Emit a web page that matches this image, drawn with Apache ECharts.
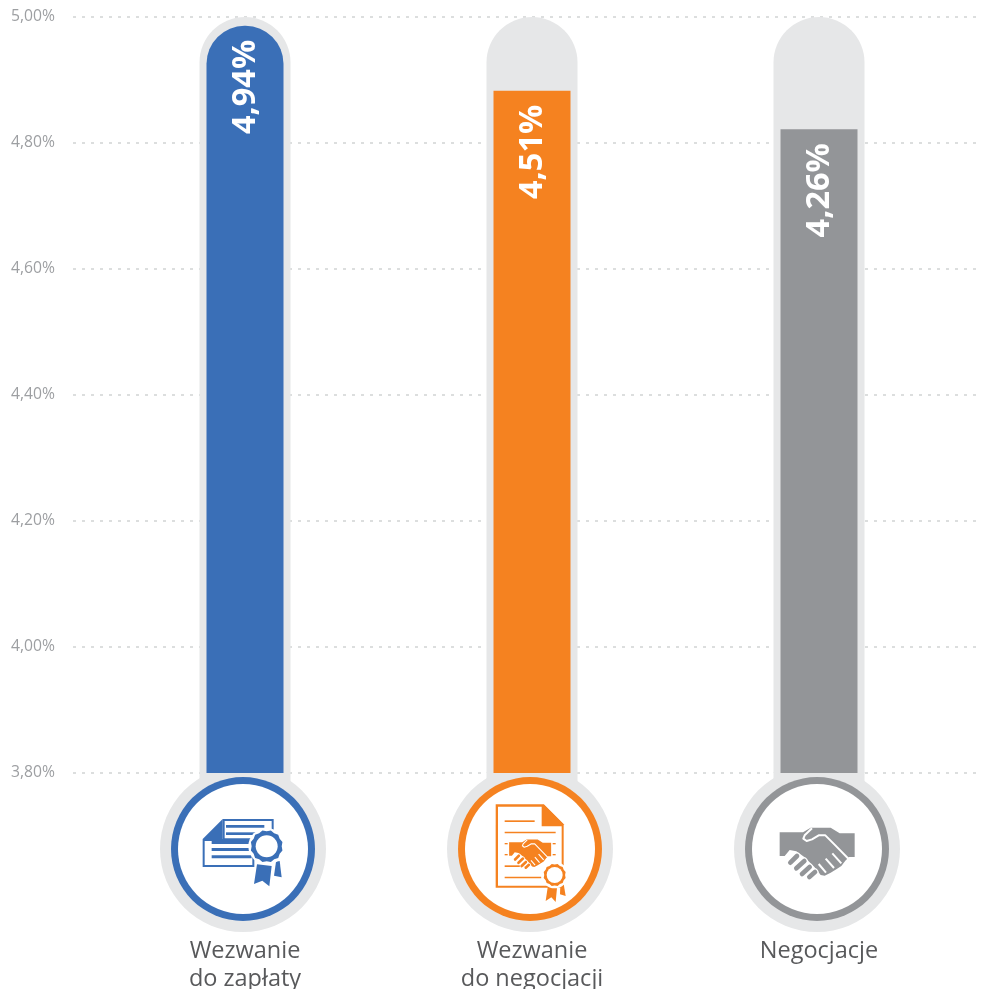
<!DOCTYPE html>
<html>
<head>
<meta charset="utf-8">
<title>Wezwania</title>
<script src="https://cdn.jsdelivr.net/npm/echarts@6/dist/echarts.min.js"></script>
<style>
  html, body { margin: 0; padding: 0; background: #fff; }
  #chart { width: 982px; height: 989px; }
</style>
</head>
<body>
<div id="chart"></div>
<script>
// bar heights as read against the axis; the printed labels differ from the axis in the original
const categories = ['Wezwanie\ndo zapłaty', 'Wezwanie\ndo negocjacji', 'Negocjacje'];
const barValues = [4.986, 4.883, 4.822];
const barLabels = ['4,94%', '4,51%', '4,26%'];
const trackValues = [5, 5, 5];
const colors = ['#3a6fb7', '#f58220', '#939598'];
const axisMin = 3.8;
const axisMax = 5;
const axisStep = 0.2;

const FONT = '"Open Sans", "Noto Sans", sans-serif';
const TRACK = '#e6e7e8';

function line(x1, y1, x2, y2, w, color, cap) {
  return {
    type: 'line',
    shape: { x1: x1, y1: y1, x2: x2, y2: y2 },
    style: { stroke: color, lineWidth: w, lineCap: cap || 'butt', fill: null }
  };
}
function poly(points, color) {
  return { type: 'polygon', shape: { points: points }, style: { fill: color } };
}
function circle(cx, cy, r, color) {
  return { type: 'circle', shape: { cx: cx, cy: cy, r: r }, style: { fill: color } };
}
function rect(x, y, w, h, color) {
  return { type: 'rect', shape: { x: x, y: y, width: w, height: h }, style: { fill: color } };
}
function rosette(cx, cy, r, inner, color) {
  const pts = [];
  const n = 24;
  for (let i = 0; i < n; i++) {
    const a = i / n * Math.PI * 2;
    const rr = i % 2 ? r : r * 0.92;
    pts.push([cx + Math.cos(a) * rr, cy + Math.sin(a) * rr]);
  }
  return [
    circle(cx, cy, r + 6, '#fff'),
    poly(pts, color),
    circle(cx, cy, inner, '#fff')
  ];
}
function knuckle(x1, y1, x2, y2, color) {
  return [
    line(x1, y1, x2, y2, 21, '#fff', 'round'),
    line(x1, y1, x2, y2, 14, color, 'round')
  ];
}

// icon shapes are in a 3x drawing space, handshake spans about 165..390 / 203..355
function handshake(color) {
  return [
    poly([[165, 217], [235, 217], [258, 203], [318, 203], [345, 220], [390, 220], [390, 291], [373, 291],
      [362, 302], [350, 318], [335, 328], [318, 338], [300, 347], [288, 345], [270, 322], [240, 292],
      [215, 274], [195, 270], [180, 288], [165, 288]], color),
    // thumb edge
    { type: 'polyline', shape: { points: [[262, 205], [240, 226], [236, 236], [246, 243], [262, 238], [282, 226], [302, 226], [332, 256], [372, 297]] },
      style: { stroke: '#fff', lineWidth: 6, fill: null, lineJoin: 'round' } },
    line(282, 312, 304, 338, 6, '#fff'),
    line(303, 296, 328, 324, 6, '#fff'),
    line(323, 280, 350, 310, 6, '#fff')
  ].concat(
    knuckle(197, 308, 217, 288, color),
    knuckle(215, 325, 239, 303, color),
    knuckle(232, 342, 255, 321, color),
    knuckle(254, 351, 271, 336, color)
  );
}

function iconCertificate(c) {
  return [
    poly([[218, 177], [371, 177], [371, 240], [218, 240]], c),
    rect(224, 183, 141, 52, '#fff'),
    rect(228, 195, 115, 8, c),
    rect(228, 217, 90, 8, c),
    poly([[158, 237], [218, 177], [218, 237]], c),
    rect(158, 237, 155, 84, c),
    rect(164, 243, 143, 72, '#fff'),
    rect(185, 243, 115, 9, c),
    rect(185, 264, 115, 9, c),
    rect(185, 286, 120, 9, c),
    poly([[378, 305], [389, 303], [395, 352], [372, 347]], c),
    poly([[321, 313], [365, 318], [358, 379], [337, 362], [312, 372]], c)
  ].concat(rosette(350, 259, 49, 33, c));
}

function iconContract(c) {
  const shake = { type: 'group', x: 116, y: 123, scaleX: 0.56, scaleY: 0.57, children: handshake(c) };
  return [
    poly([[168, 133], [312, 133], [372, 193], [372, 383], [168, 383]], c),
    poly([[175, 140], [306, 140], [306, 199], [366, 199], [366, 377], [175, 377]], '#fff'),
    poly([[312, 133], [372, 193], [312, 193]], c),
    rect(195, 181, 90, 5, c),
    rect(195, 215, 153, 5, c),
    rect(195, 316, 60, 5, c),
    rect(195, 350, 110, 5, c),
    rect(195, 249, 9, 4, c),
    rect(195, 282, 9, 4, c),
    rect(339, 249, 9, 4, c),
    rect(339, 282, 9, 4, c),
    shake,
    poly([[362, 375], [372, 372], [378, 408], [361, 403]], c),
    poly([[325, 376], [352, 384], [348, 426], [335, 412], [318, 423]], c)
  ].concat(rosette(345, 345, 34, 24, c));
}

const icons = [
  { draw: iconCertificate, ox: 279, oy: 267 },
  { draw: iconContract, ox: 271, oy: 267 },
  { draw: handshake, ox: 277, oy: 267 }
];

// grey disc and neck go under the bars, the ring and icon over them
function renderDisc(params, api) {
  const p = api.coord([api.value(0), axisMin]);
  return {
    type: 'group',
    children: [
      { type: 'rect', shape: { x: p[0] - 45.5, y: p[1] - 1, width: 91, height: 15 }, style: { fill: TRACK } },
      { type: 'circle', shape: { cx: p[0] - 2, cy: p[1] + 76, r: 83 }, style: { fill: TRACK } }
    ]
  };
}

function renderBadge(params, api) {
  const i = api.value(0);
  const p = api.coord([i, axisMin]);
  const c = colors[i];
  const cx = p[0] - 2;
  const cy = p[1] + 76;
  return {
    type: 'group',
    children: [
      { type: 'circle', shape: { cx: cx, cy: cy, r: 72 }, style: { fill: c } },
      { type: 'circle', shape: { cx: cx, cy: cy, r: 65 }, style: { fill: '#fff' } },
      {
        type: 'group', x: cx, y: cy, scaleX: 1 / 3, scaleY: 1 / 3,
        children: [{ type: 'group', x: -icons[i].ox, y: -icons[i].oy, children: icons[i].draw(c) }]
      }
    ]
  };
}

const chart = echarts.init(document.getElementById('chart'), null, { renderer: 'canvas' });

const badgeData = categories.map(function (c, i) { return [i, axisMin]; });

const option = {
  animation: false,
  grid: [
    { left: 73, right: 0, top: 17, bottom: 216, outerBoundsMode: 'none' },
    { left: 101.5, width: 861, top: 17, bottom: 216, outerBoundsMode: 'none' }
  ],
  xAxis: [
    { type: 'value', gridIndex: 0, show: false, min: 0, max: 1 },
    {
      type: 'category',
      gridIndex: 1,
      data: categories,
      axisLine: { show: false },
      axisTick: { show: false },
      axisLabel: { margin: 164, fontFamily: FONT, fontSize: 23.5, lineHeight: 28, color: '#58595b', interval: 0 }
    },
    // separate hidden axis so the wider track bars centre on the same spot as the value bars
    { type: 'category', gridIndex: 1, data: categories, show: false }
  ],
  yAxis: [
    {
      type: 'value',
      gridIndex: 0,
      min: axisMin,
      max: axisMax,
      interval: axisStep,
      axisLine: { show: false },
      axisTick: { show: false },
      axisLabel: {
        margin: 18,
        fontFamily: FONT,
        fontSize: 15.7,
        color: '#9d9fa2',
        padding: [4, 0, 0, 0],
        formatter: function (v) { return v.toFixed(2).replace('.', ',') + '%'; }
      },
      splitLine: { show: true, lineStyle: { color: '#d1d3d4', width: 1.5, type: [3, 6] } }
    },
    { type: 'value', gridIndex: 1, min: axisMin, max: axisMax, show: false, splitLine: { show: false } }
  ],
  series: [
    {
      type: 'custom',
      xAxisIndex: 1,
      yAxisIndex: 1,
      z: 1,
      clip: false,
      silent: true,
      renderItem: renderDisc,
      data: badgeData
    },
    {
      type: 'bar',
      xAxisIndex: 2,
      yAxisIndex: 1,
      data: trackValues,
      barWidth: 91,
      silent: true,
      itemStyle: { color: TRACK, borderRadius: [45.5, 45.5, 0, 0] }
    },
    {
      type: 'bar',
      xAxisIndex: 1,
      yAxisIndex: 1,
      barWidth: 77,
      z: 3,
      data: barValues.map(function (v, i) {
        return {
          value: v,
          itemStyle: { color: colors[i], borderRadius: i === 0 ? [38, 38, 0, 0] : 0 }
        };
      }),
      label: {
        show: true,
        position: 'insideTop',
        distance: 16,
        rotate: 90,
        align: 'right',
        verticalAlign: 'middle',
        // offset runs in the rotated frame
        offset: [2, 1],
        fontFamily: FONT,
        fontWeight: 'bold',
        fontSize: 32.5,
        color: '#fff',
        formatter: function (p) { return barLabels[p.dataIndex]; }
      }
    },
    {
      type: 'custom',
      xAxisIndex: 1,
      yAxisIndex: 1,
      z: 5,
      clip: false,
      silent: true,
      renderItem: renderBadge,
      data: badgeData
    }
  ]
};

chart.setOption(option);
</script>
</body>
</html>
